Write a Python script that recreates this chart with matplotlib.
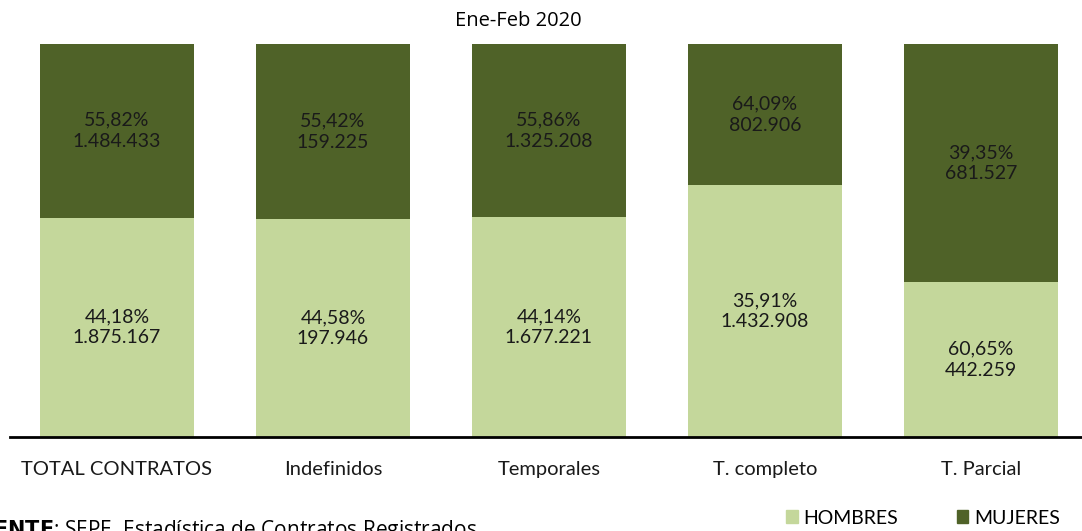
import matplotlib.pyplot as plt
from matplotlib.patches import Patch

categorias = ['TOTAL CONTRATOS', 'Indefinidos', 'Temporales', 'T. completo', 'T. Parcial']
hombres = [1875167, 197946, 1677221, 1432908, 442259]
mujeres = [1484433, 159225, 1325208, 802906, 681527]
# etiquetas tal como aparecen en el original
pct_hombres = ['44,18%', '44,58%', '44,14%', '35,91%', '60,65%']
pct_mujeres = ['55,82%', '55,42%', '55,86%', '64,09%', '39,35%']
txt_hombres = ['1.875.167', '197.946', '1.677.221', '1.432.908', '442.259']
txt_mujeres = ['1.484.433', '159.225', '1.325.208', '802.906', '681.527']

c_h = '#C4D79B'
c_m = '#4F6228'
fuente = 'Lato'

fig = plt.figure(figsize=(10.82, 5.31), dpi=100)
ax = fig.add_axes([10/1082, 1 - 437/531, 1 - 10/1082, (437 - 44)/531])

x = range(len(categorias))
tot = [h + m for h, m in zip(hombres, mujeres)]
fh = [h / t for h, t in zip(hombres, tot)]
fm = [m / t for m, t in zip(mujeres, tot)]

ax.bar(x, fh, width=0.713, color=c_h, edgecolor='none')
ax.bar(x, fm, bottom=fh, width=0.713, color=c_m, edgecolor='none')

for i in x:
    ax.text(i, fh[i] / 2, pct_hombres[i] + '\n' + txt_hombres[i], ha='center', va='center',
            fontsize=14, family=fuente, color='#1a1a1a', linespacing=1.3)
    ax.text(i, fh[i] + fm[i] / 2, pct_mujeres[i] + '\n' + txt_mujeres[i], ha='center', va='center',
            fontsize=14, family=fuente, color='#1a1a1a', linespacing=1.3)

ax.set_xlim(-0.495, 4.468)
ax.set_ylim(0, 1)
for s in ['top', 'right', 'left']:
    ax.spines[s].set_visible(False)
ax.spines['bottom'].set_linewidth(2)
ax.spines['bottom'].set_color('black')
ax.set_yticks([])
ax.set_xticks(list(x))
ax.set_xticklabels(categorias, fontsize=14.5, family=fuente, color='#1a1a1a')
ax.tick_params(axis='x', length=0, pad=17)

fig.text(518/1082, 1 - 21/531, 'Ene-Feb 2020', ha='center', va='center', fontsize=14.5, family='Open Sans')

# la fuente aparece recortada en el original
fig.text(-38/1082, 1 - 536/531, r'$\bf{FUENTE}$' + ': SEPE. Estadística de Contratos Registrados',
         ha='left', va='baseline', fontsize=15, family='Open Sans')

handles = [Patch(color=c_h, label='HOMBRES'), Patch(color=c_m, label='MUJERES')]
fig.legend(handles=handles, loc='center right', bbox_to_anchor=(0.996, 1 - 518/531), ncol=2,
           frameon=False, prop={'family': fuente, 'size': 14}, handlelength=0.6, handleheight=0.6,
           handletextpad=0.3, columnspacing=3.0)

fig.savefig('out.png', dpi=100)
